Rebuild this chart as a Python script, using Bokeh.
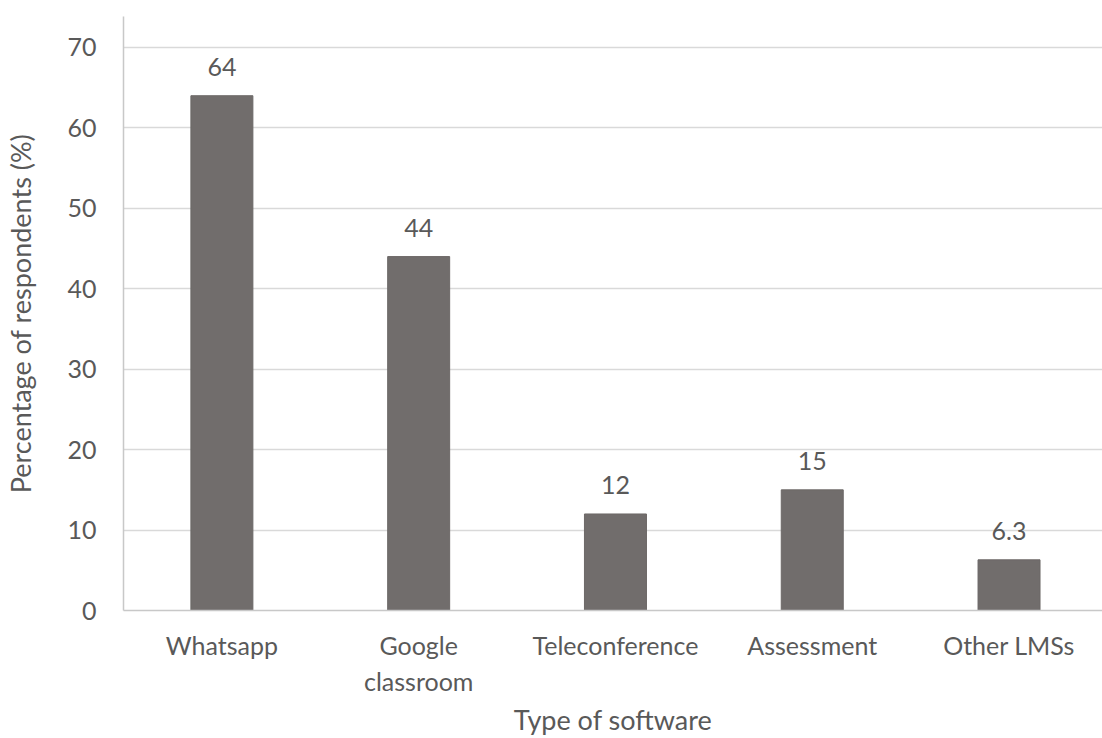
from bokeh.plotting import figure
from bokeh.models import Range1d, FixedTicker, ColumnDataSource, LabelSet
from bokeh.core.properties import value
from bokeh.embed import file_html
from bokeh.resources import INLINE

categories = ["Whatsapp", "Google\nclassroom", "Teleconference", "Assessment", "Other LMSs"]
values = [64, 44, 12, 15, 6.3]
y_ticks = [0, 10, 20, 30, 40, 50, 60, 70]

FONT = "Lato"
TXT = "#595959"

xs = list(range(len(categories)))
src = ColumnDataSource(dict(x=xs, top=values, lab=[f"{v:g}" for v in values]))

p = figure(width=1102, height=738, output_backend="svg", toolbar_location=None,
           x_range=Range1d(-0.5, 4.475), y_range=Range1d(0, 73.85),
           min_border_left=123, min_border_right=0, min_border_top=16, min_border_bottom=128)
p.outline_line_color = None
p.background_fill_color = "white"

p.vbar(x="x", top="top", width=0.315, source=src, fill_color="#716d6c", line_color="#6c6867", line_width=1)

labels = LabelSet(x="x", y="top", text="lab", source=src, text_align="center",
                  text_baseline="alphabetic", y_offset=20, text_font=value(FONT),
                  text_font_size="25px", text_color=TXT)
p.add_layout(labels)

p.xaxis.ticker = FixedTicker(ticks=xs)
p.xaxis.major_label_overrides = {i: c for i, c in zip(xs, categories)}
p.yaxis.ticker = FixedTicker(ticks=y_ticks)

for ax in (p.xaxis, p.yaxis):
    ax.axis_line_color = "#c8c8c8"
    ax.axis_line_width = 1.5
    ax.major_tick_line_color = None
    ax.minor_tick_line_color = None
    ax.major_label_text_font = FONT
    ax.major_label_text_font_size = "25px"
    ax.major_label_text_color = TXT
    ax.axis_label_text_font = FONT
    ax.axis_label_text_font_style = "normal"
    ax.axis_label_text_font_size = "27px"
    ax.axis_label_text_color = TXT

p.xaxis.axis_label = "Type of software"
p.yaxis.axis_label = "Percentage of respondents (%)"
p.xaxis.major_label_standoff = 13
p.yaxis.major_label_standoff = 21
p.xaxis.axis_label_standoff = 4
p.yaxis.axis_label_standoff = 27

p.xgrid.grid_line_color = None
p.ygrid.grid_line_color = "#d9d9d9"
p.ygrid.grid_line_width = 1.5

open("out.html", "w").write(file_html(p, INLINE))
